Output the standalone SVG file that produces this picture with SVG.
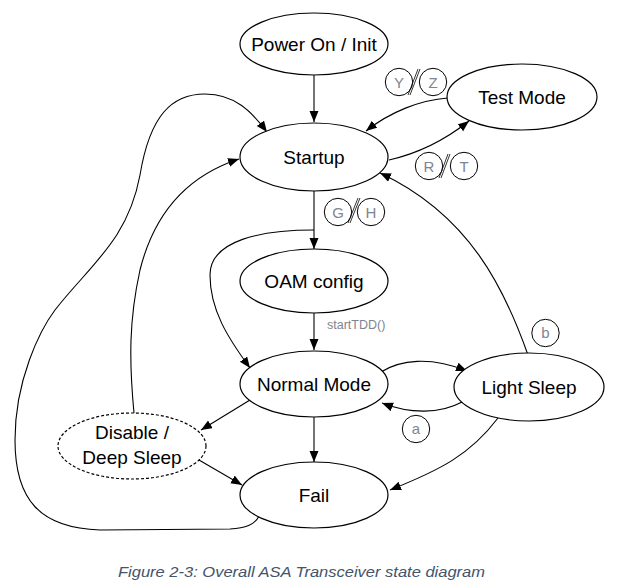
<svg xmlns="http://www.w3.org/2000/svg" width="620" height="586" viewBox="0 0 620 586">
<style>
.node ellipse{fill:#fff;stroke:#000;stroke-width:1.2}
.node text{font-family:"Liberation Sans",Arial,sans-serif;font-size:19px;fill:#000;text-anchor:middle}
.dashed ellipse{stroke-dasharray:3,2}
.edges path,.edges line{fill:none;stroke:#000;stroke-width:1.1}
.lbl circle{fill:#fff;stroke:#000;stroke-width:1}
.lbl line{stroke:#000;stroke-width:0.8}
.lbl text{font-family:"Liberation Sans",Arial,sans-serif;font-size:15px;fill:#7f8590;text-anchor:middle}
.small{font-family:"Liberation Sans",Arial,sans-serif;font-size:12.5px;fill:#7f8590}
.caption{font-family:"Liberation Sans",Arial,sans-serif;font-size:15.5px;font-style:italic;fill:#44546a}
</style>
<defs>
<marker id="arr" markerUnits="userSpaceOnUse" markerWidth="12" markerHeight="10" refX="11" refY="4.5" orient="auto">
<path d="M0,0 L11,4.5 L0,9 z" fill="#000"/>
</marker>
</defs>
<g class="edges" id="connectors">
<line x1="314" y1="75" x2="314" y2="122" marker-end="url(#arr)"/>
<path d="M448,98 C420,100 390,112 366,131" marker-end="url(#arr)"/>
<path d="M389,160 C420,153 445,140 469,121" marker-end="url(#arr)"/>
<line x1="314" y1="191" x2="314" y2="249" marker-end="url(#arr)"/>
<path d="M314,230 C262,230 210,240 210,275 C210,310 228,338 250,368" marker-end="url(#arr)"/>
<line x1="314" y1="313" x2="314" y2="350" marker-end="url(#arr)"/>
<path d="M381,372 C400,360 430,356 467,371" marker-end="url(#arr)"/>
<path d="M462,402 C440,414 410,414 382,403" marker-end="url(#arr)"/>
<path d="M528,355 C505,290 470,215 380,173" marker-end="url(#arr)"/>
<path d="M498,418 C470,455 440,470 390,490" marker-end="url(#arr)"/>
<line x1="250" y1="400" x2="201" y2="430" marker-end="url(#arr)"/>
<line x1="314" y1="417" x2="314" y2="462" marker-end="url(#arr)"/>
<line x1="199" y1="460" x2="242" y2="485" marker-end="url(#arr)"/>
<path d="M134,413 C129,360 129,320 140,270 C155,210 190,175 239,159" marker-end="url(#arr)"/>
<path d="M259,516 C255,525 245,528 230,529 L100,530 C40,528 15,500 15,440 C15,380 40,330 55,310 C90,265 128,240 140,175 C150,115 172,94 205,94 C235,94 252,112 267,132" marker-end="url(#arr)"/>
</g>
<g class="node" id="power-on"><ellipse cx="314" cy="44" rx="74" ry="31"/><text x="314" y="51">Power On / Init</text></g>
<g class="node" id="startup"><ellipse cx="314" cy="157" rx="74" ry="34"/><text x="314" y="164">Startup</text></g>
<g class="node" id="test-mode"><ellipse cx="522" cy="97" rx="75" ry="33"/><text x="522" y="104">Test Mode</text></g>
<g class="node" id="oam-config"><ellipse cx="314" cy="281" rx="74" ry="32"/><text x="314" y="288">OAM config</text></g>
<g class="node" id="normal-mode"><ellipse cx="314" cy="384" rx="74" ry="33"/><text x="314" y="391">Normal Mode</text></g>
<g class="node" id="light-sleep"><ellipse cx="529" cy="387" rx="75" ry="34"/><text x="529" y="394">Light Sleep</text></g>
<g class="node dashed" id="disable"><ellipse cx="132" cy="446" rx="74" ry="33"/><text x="132" y="439">Disable /</text><text x="132" y="464">Deep Sleep</text></g>
<g class="node" id="fail"><ellipse cx="314" cy="495" rx="74" ry="33"/><text x="314" y="502">Fail</text></g>
<g class="lbl" id="label-yz">
<circle cx="399" cy="82" r="13.7"/><circle cx="433" cy="82" r="13.7"/>
<line x1="418" y1="69" x2="408" y2="95"/><line x1="420" y1="69" x2="410" y2="95"/>
<text x="399" y="87.5">Y</text><text x="433" y="87.5">Z</text>
</g>
<g class="lbl" id="label-rt">
<circle cx="429" cy="166" r="13.7"/><circle cx="464" cy="166" r="13.7"/>
<line x1="448" y1="154" x2="439" y2="178"/><line x1="450" y1="154" x2="441" y2="178"/>
<text x="429" y="171.5">R</text><text x="464" y="171.5">T</text>
</g>
<g class="lbl" id="label-gh">
<circle cx="338" cy="212" r="13.7"/><circle cx="371" cy="212" r="13.7"/>
<line x1="358" y1="198" x2="348" y2="223"/><line x1="360" y1="198" x2="350" y2="223"/>
<text x="338" y="217.5">G</text><text x="371" y="217.5">H</text>
</g>
<g class="lbl" id="label-a"><circle cx="416" cy="429" r="13.7"/><text x="416" y="434">a</text></g>
<g class="lbl" id="label-b"><circle cx="545.5" cy="333" r="13.7"/><text x="545.5" y="338">b</text></g>
<text class="small" x="327" y="329">startTDD()</text>
<text class="caption" x="118" y="577" textLength="367" lengthAdjust="spacingAndGlyphs">Figure 2-3: Overall ASA Transceiver state diagram</text>
</svg>
